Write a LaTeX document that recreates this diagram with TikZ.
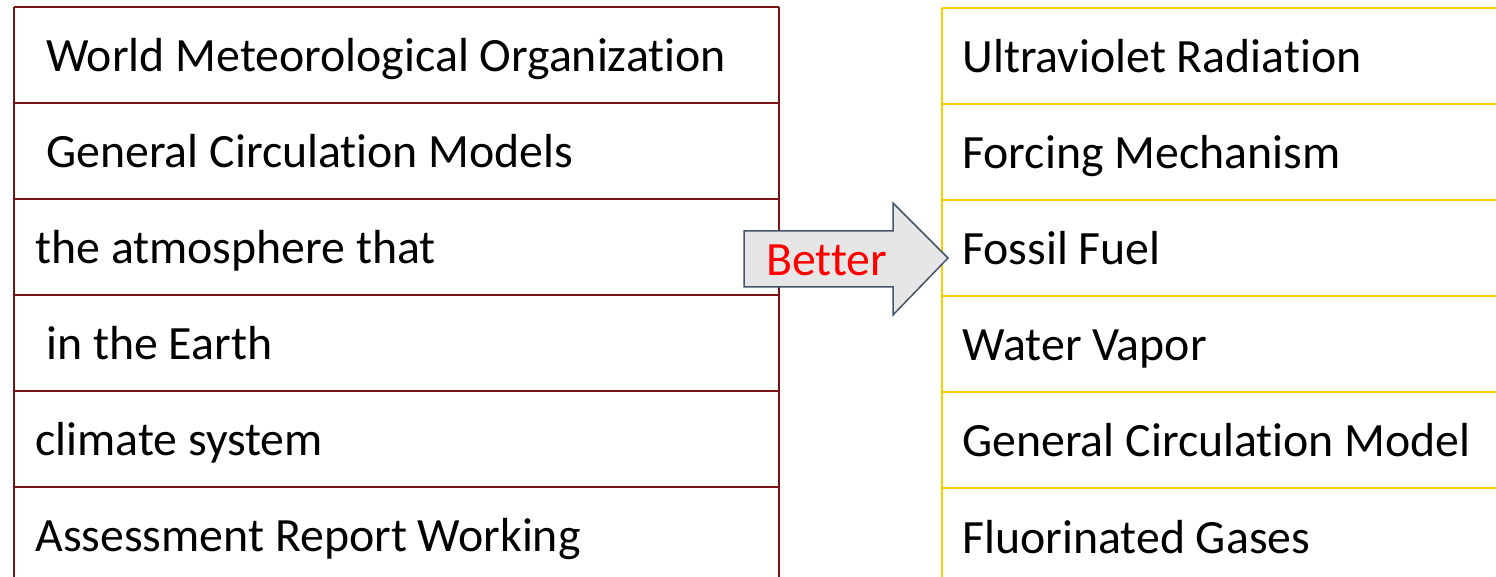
\documentclass[tikz,border=0pt]{standalone}
\usepackage{fontspec}
\setmainfont{Carlito}[Ligatures={NoCommon}]
\definecolor{leftrule}{RGB}{122,20,20}
\definecolor{rightrule}{RGB}{255,204,0}
\definecolor{arrowfill}{RGB}{230,230,230}
\definecolor{arrowedge}{RGB}{68,84,106}
\begin{document}
\begin{tikzpicture}[x=0.5pt,y=-0.5pt,
  cell/.style={anchor=base west,inner sep=0pt,font=\fontsize{23.9pt}{28pt}\selectfont},
  lrule/.style={draw=leftrule,line width=1pt},
  rrule/.style={draw=rightrule,line width=1.1pt}]
\useasboundingbox (0,0) rectangle (1496,577);
% left table
\foreach \y in {7,103,199,295,391,487} \draw[lrule] (14,\y) -- (779,\y);
\draw[lrule] (14,7) -- (14,577);
\draw[lrule] (779,7) -- (779,577);
\node[cell] (l1) at (46,72) {World Meteorological Organization};
\node[cell] (l2) at (46,168) {General Circulation Models};
\node[cell] (l3) at (35,264) {the atmosphere that};
\node[cell] (l4) at (46,360) {in the Earth};
\node[cell] (l5) at (35,456) {climate system};
\node[cell] (l6) at (35,552) {Assessment Report Working};
% right table
\foreach \y in {8,104,200,296,392,488} \draw[rrule] (942,\y) -- (1496,\y);
\draw[rrule] (942,8) -- (942,577);
\node[cell] (r1) at (962,73) {Ultraviolet Radiation};
\node[cell] (r2) at (962,169) {Forcing Mechanism};
\node[cell] (r3) at (962,265) {Fossil Fuel};
\node[cell] (r4) at (962,361) {Water Vapor};
\node[cell] (r5) at (962,457) {General Circulation Model};
\node[cell] (r6) at (962,553) {Fluorinated Gases};
% block arrow
\draw[fill=arrowfill,draw=arrowedge,line width=0.75pt,line join=miter]
  (744,231) -- (893,231) -- (893,203) -- (948,258) -- (893,315) -- (893,287) -- (744,287) -- cycle;
\node[cell,text=red] (better) at (766,276) {Better};
\end{tikzpicture}
\end{document}
